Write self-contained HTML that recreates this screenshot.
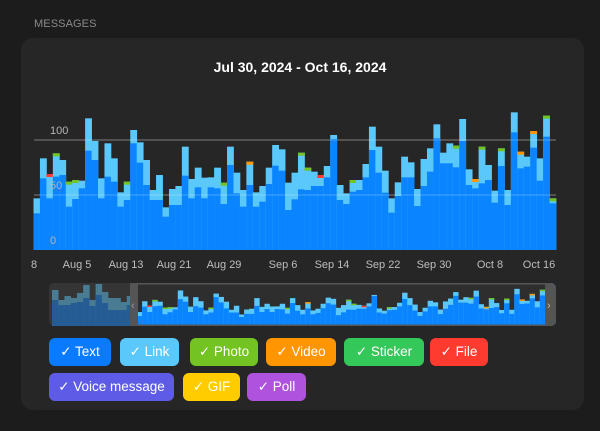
<!DOCTYPE html>
<html><head><meta charset="utf-8"><style>
body{margin:0;width:600px;height:431px;background:#1c1c1c;font-family:"Liberation Sans",sans-serif;overflow:hidden;position:relative}
.hdr{position:absolute;left:34px;top:18px;font-size:11px;color:#8a8a8a;letter-spacing:.1px}
.card{position:absolute;left:21px;top:38px;width:563px;height:372px;background:#262626;border-radius:12px}
.title{position:absolute;left:0;top:59px;width:600px;text-align:center;color:#fff;font-weight:bold;font-size:14px}
.btn{position:absolute;height:28px;line-height:28px;border-radius:6px;color:#fff;font-size:13.5px;text-align:center}
svg{position:absolute;left:0;top:0}
</style></head><body>
<div class="hdr">MESSAGES</div>
<div class="card"></div>
<div class="title">Jul 30, 2024 - Oct 16, 2024</div>
<svg id="s" width="600" height="431"></svg>
<div class="btn" style="left:49px;top:338px;width:62px;background:#0a7aff">✓ Text</div>
<div class="btn" style="left:120px;top:338px;width:59px;background:#5ac8fa">✓ Link</div>
<div class="btn" style="left:190px;top:338px;width:68px;background:#73c322">✓ Photo</div>
<div class="btn" style="left:266px;top:338px;width:70px;background:#ff9500">✓ Video</div>
<div class="btn" style="left:344px;top:338px;width:80px;background:#34c759">✓ Sticker</div>
<div class="btn" style="left:430px;top:338px;width:58px;background:#ff3b30">✓ File</div>
<div class="btn" style="left:49px;top:373px;width:125px;background:#5e5ce6">✓ Voice message</div>
<div class="btn" style="left:183px;top:373px;width:57px;background:#ffcc00">✓ GIF</div>
<div class="btn" style="left:247px;top:373px;width:59px;background:#af52de">✓ Poll</div>
<script>
var top1=[295,175,222,160,180,245,240,242,55,123,235,130,175,277,245,90,127,180,270,225,322,267,258,140,237,203,233,232,203,248,140,218,270,185,277,258,203,135,148,248,218,158];
var txt1=[340,235,295,230,225,320,297,265,152,180,295,230,245,320,300,130,188,255,300,300,350,315,315,227,295,262,295,262,265,312,195,280,320,255,320,305,252,197,212,330,298,268];
var top3=[203,215,225,198,105,255,280,240,240,192,80,140,212,295,247,170,187,267,177,145,73,158,130,137,57,208,237,140,195,272,145,270,37,155,170,93,175,47,295];
var txt3=[270,258,258,232,117,300,312,275,270,232,150,218,278,338,288,232,232,318,258,215,115,190,190,202,123,255,265,250,240,308,198,315,97,205,200,143,242,110,310];
var caps={3:'#73c322',5:'#73c322',6:'#73c322',14:'#73c322',29:'#73c322',33:'#ff9500',41:'#73c322',42:'#73c322',2:'#ff3b30',44:'#ff3b30',49:'#73c322',65:'#73c322',68:'#ff9500',69:'#73c322',72:'#73c322',75:'#ff9500',77:'#ff9500',79:'#73c322',80:'#73c322'};
var T=top1.concat(top3).map(v=>100+v/3),X=txt1.concat(txt3).map(v=>100+v/3);
var n=T.length,x0=33.5,x1=556,w=(x1-x0)/n,h='';
h+='<line x1="34" x2="556" y1="140" y2="140" stroke="#555" stroke-width="1"/><line x1="34" x2="556" y1="195" y2="195" stroke="#555" stroke-width="1"/>';
for(var i=0;i<n;i++){var x=x0+i*w;var t=T[i],tx=Math.max(X[i],t);
h+='<rect x="'+x+'" y="'+t+'" width="'+(w+.4)+'" height="'+(250-t)+'" fill="#5ac8fa"/>';
h+='<rect x="'+x+'" y="'+tx+'" width="'+(w+.4)+'" height="'+(250-tx)+'" fill="#0a84ff"/>';
if(caps[i])h+='<rect x="'+x+'" y="'+t+'" width="'+(w+.4)+'" height="3" fill="'+caps[i]+'"/>';}
h+='<line x1="34" x2="556" y1="195" y2="195" stroke="rgba(255,255,255,.25)"/><line x1="34" x2="556" y1="140" y2="140" stroke="rgba(255,255,255,.25)"/>';
h+='<g fill="#b5b5b5" font-size="11" font-family="Liberation Sans">';
h+='<text x="50" y="134">100</text><text x="50" y="189">50</text><text x="50" y="244">0</text></g>';
var L=[[34,'8'],[77,'Aug 5'],[126,'Aug 13'],[174,'Aug 21'],[224,'Aug 29'],[283,'Sep 6'],[332,'Sep 14'],[383,'Sep 22'],[434,'Sep 30'],[490,'Oct 8'],[539,'Oct 16']];
h+='<g fill="#bdbdbd" font-size="11" font-family="Liberation Sans" text-anchor="middle">';
L.forEach(l=>h+='<text x="'+l[0]+'" y="268">'+l[1]+'</text>');h+='</g>';
// mini navigator
h+='<clipPath id="c"><rect x="49" y="283" width="507" height="43" rx="5"/></clipPath><g clip-path="url(#c)"><rect x="49" y="283" width="507" height="43" fill="#2e2e2e"/>';
var pre=[[290,300],[300,305],[296,305],[298,303],[293,302],[285,298],[300,306],[284,295],[292,303],[298,310],[298,310],[302,310],[296,305]];
var mw=(133-52)/pre.length;
pre.forEach((p,i)=>{var x=52+i*mw;h+='<rect x="'+x+'" y="'+p[0]+'" width="'+(mw+.3)+'" height="'+(326-p[0])+'" fill="#5ac8fa"/><rect x="'+x+'" y="'+p[1]+'" width="'+(mw+.3)+'" height="'+(326-p[1])+'" fill="#0a84ff"/>';});
var mx0=137,mw2=(550-137)/n;
for(var i=0;i<n;i++){var x=mx0+i*mw2;var t=326-(250-T[i])*0.27,tx=326-(250-Math.max(X[i],T[i]))*0.27;
h+='<rect x="'+x+'" y="'+t+'" width="'+(mw2+.3)+'" height="'+(326-t)+'" fill="#5ac8fa"/><rect x="'+x+'" y="'+tx+'" width="'+(mw2+.3)+'" height="'+(326-tx)+'" fill="#0a84ff"/>';
if(caps[i])h+='<rect x="'+x+'" y="'+t+'" width="'+(mw2+.3)+'" height="1.5" fill="'+caps[i]+'"/>';}
h+='<rect x="550" y="283" width="6" height="43" fill="#0a84ff"/>';
h+='<rect x="49" y="283" width="81" height="43" fill="rgba(60,60,60,.55)"/>';
h+='<rect x="130" y="283" width="8" height="43" fill="#555"/><rect x="545" y="283" width="11" height="43" fill="#555"/>';
h+='<rect x="137" y="283" width="408" height="1.5" fill="#555"/><rect x="137" y="324.5" width="408" height="1.5" fill="#555"/>';
h+='<text x="131" y="309" font-size="11" fill="#999">‹</text><text x="547" y="309" font-size="11" fill="#bbb">›</text></g>';
document.getElementById('s').innerHTML=h;
</script>
</body></html>
